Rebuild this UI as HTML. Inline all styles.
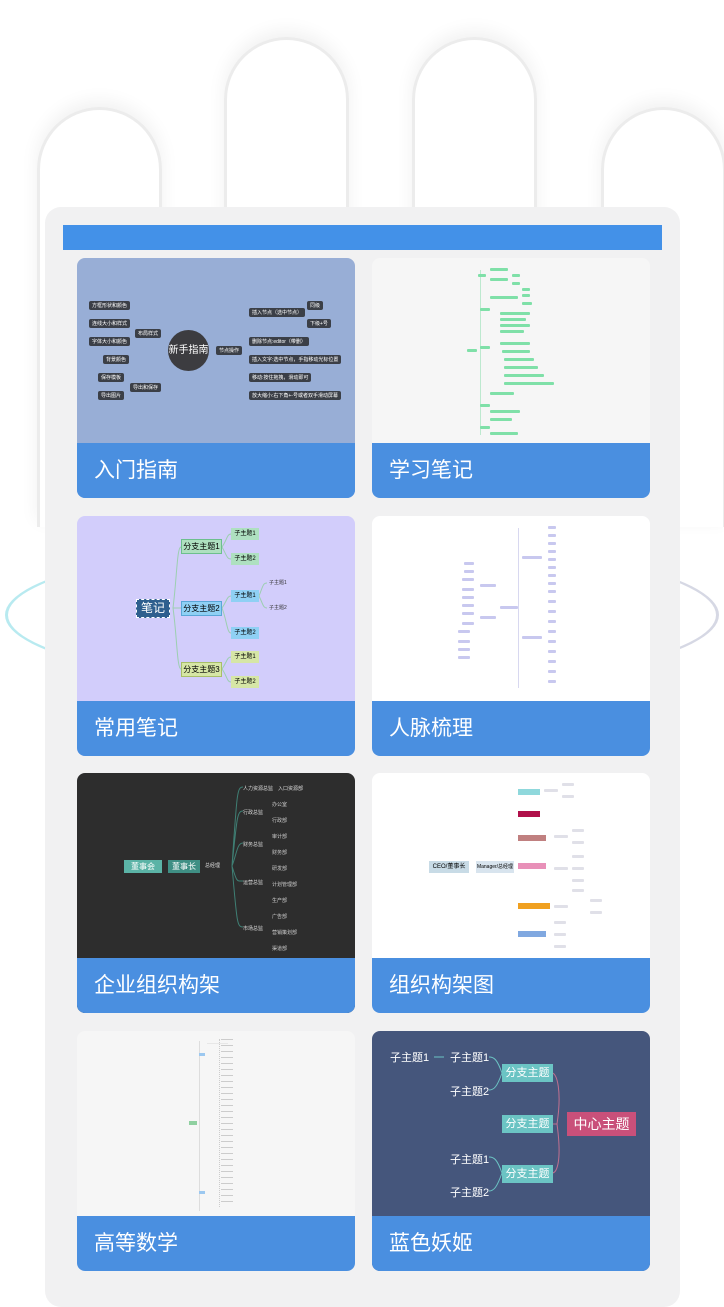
<!DOCTYPE html>
<html><head><meta charset="utf-8"><style>
*{margin:0;padding:0;box-sizing:border-box}
body{width:724px;height:1287px;background:#fff;position:relative;overflow:hidden;font-family:"Liberation Sans","Noto Sans CJK SC",sans-serif}
.a{position:absolute}
.arch{position:absolute;border:3px solid #ececec;border-bottom:none;border-radius:64px 64px 0 0;box-shadow:0 -6px 18px rgba(0,0,0,.06)}
.panel{position:absolute;left:45px;top:207px;width:635px;height:1100px;background:#f1f1f2;border-radius:16px}
.card{position:absolute;width:278px;height:240px;border-radius:8px;overflow:hidden}
.card .lab{position:absolute;left:0;bottom:0;width:100%;height:55px;background:#4a8fe0;color:#fff;font-size:21px;line-height:55px;padding-left:17px}
.n{position:absolute;font-size:5px;color:#fff;background:#3b3f47;border-radius:2px;padding:1px 3px;white-space:nowrap}
.g{position:absolute;background:#7fe0a8;height:3px;border-radius:1px}
.p{position:absolute;background:#c8c8ef;height:3px;border-radius:1px}
.t{position:absolute;font-size:5px;color:#aaa;white-space:nowrap}
</style></head><body>
<div class="a" style="left:5px;top:540px;width:714px;height:150px;border-radius:50%;border:3px solid #b8eaf0;border-right-color:#d6d8e4"></div>
<div class="arch" style="left:37px;top:107px;width:125px;height:420px"></div>
<div class="arch" style="left:224px;top:37px;width:125px;height:490px"></div>
<div class="arch" style="left:412px;top:37px;width:125px;height:490px"></div>
<div class="arch" style="left:601px;top:107px;width:125px;height:420px"></div>
<div class="panel"></div>
<div class="a" style="left:63px;top:225px;width:599px;height:25px;background:#4391e8"></div>

<!-- card1 -->
<div class="card" style="left:77px;top:258px;background:#98aed6">
 <div class="a" style="left:91px;top:72px;width:41px;height:41px;border-radius:50%;background:#3c3c40;color:#fff;font-size:10px;line-height:41px;text-align:center">新手指南</div>
 <div class="n" style="left:12px;top:43px">方框形状和颜色</div>
 <div class="n" style="left:12px;top:61px">连线大小和样式</div>
 <div class="n" style="left:12px;top:79px">字体大小和颜色</div>
 <div class="n" style="left:26px;top:97px">背景颜色</div>
 <div class="n" style="left:21px;top:115px">保存模板</div>
 <div class="n" style="left:21px;top:133px">导出图片</div>
 <div class="n" style="left:58px;top:71px">布局样式</div>
 <div class="n" style="left:53px;top:125px">导出和保存</div>
 <div class="n" style="left:139px;top:88px">节点操作</div>
 <div class="n" style="left:172px;top:50px">插入节点（选中节点）</div>
 <div class="n" style="left:172px;top:79px">删除节点:editor（带删）</div>
 <div class="n" style="left:172px;top:97px">插入文字:选中节点，手指移动光标位置</div>
 <div class="n" style="left:172px;top:115px">移动:按住拖拽，滑动即可</div>
 <div class="n" style="left:172px;top:133px">放大缩小:右下角+-号或者双手滑动屏幕</div>
 <div class="n" style="left:230px;top:43px">同级</div>
 <div class="n" style="left:230px;top:61px">下级+号</div>
 <div class="lab">入门指南</div>
</div>
<!-- card2 -->
<div class="card" style="left:372px;top:258px;background:#f6f6f6">
 <div class="a" style="left:108px;top:12px;width:1px;height:165px;background:#bde9cf"></div>
 <div class="g" style="left:118px;top:10px;width:18px"></div><div class="g" style="left:106px;top:16px;width:8px"></div>
 <div class="g" style="left:118px;top:20px;width:18px"></div><div class="g" style="left:140px;top:16px;width:8px"></div>
 <div class="g" style="left:140px;top:24px;width:8px"></div><div class="g" style="left:150px;top:30px;width:8px"></div>
 <div class="g" style="left:150px;top:36px;width:8px"></div><div class="g" style="left:118px;top:38px;width:28px"></div>
 <div class="g" style="left:150px;top:44px;width:10px"></div><div class="g" style="left:108px;top:50px;width:10px"></div>
 <div class="g" style="left:128px;top:54px;width:30px"></div><div class="g" style="left:128px;top:60px;width:26px"></div>
 <div class="g" style="left:128px;top:66px;width:30px"></div><div class="g" style="left:128px;top:72px;width:24px"></div>
 <div class="g" style="left:95px;top:91px;width:10px"></div><div class="g" style="left:108px;top:88px;width:10px"></div>
 <div class="g" style="left:128px;top:84px;width:30px"></div><div class="g" style="left:130px;top:92px;width:28px"></div>
 <div class="g" style="left:132px;top:100px;width:30px"></div><div class="g" style="left:132px;top:108px;width:34px"></div>
 <div class="g" style="left:132px;top:116px;width:40px"></div><div class="g" style="left:132px;top:124px;width:50px"></div>
 <div class="g" style="left:118px;top:134px;width:24px"></div><div class="g" style="left:108px;top:146px;width:10px"></div>
 <div class="g" style="left:118px;top:152px;width:30px"></div><div class="g" style="left:118px;top:160px;width:22px"></div>
 <div class="g" style="left:108px;top:168px;width:10px"></div><div class="g" style="left:118px;top:174px;width:28px"></div>
 <div class="lab">学习笔记</div>
</div>
<!-- card3 -->
<div class="card" style="left:77px;top:516px;background:#d2cdfb">
 <svg class="a" style="left:0;top:0" width="278" height="186"><g fill="none" stroke="#9ccfb0" stroke-width="1"><path d="M96 92 C100 60,100 31,104 31"/><path d="M96 92 L104 92"/><path d="M96 92 C100 120,100 153,104 153"/><path d="M145 31 C150 24,150 18,154 18 M145 31 C150 40,150 43,154 43 M145 92 C150 85,150 80,154 80 M145 92 C150 105,150 117,154 117 M145 153 C150 146,150 141,154 141 M145 153 C150 160,150 166,154 166 M182 80 C186 70,186 67,190 67 M182 80 C186 88,186 92,190 92"/></g></svg>
 <div class="a" style="left:59px;top:83px;width:34px;height:19px;background:#2e5f8e;border:1px dashed #fff;color:#fff;font-size:12px;line-height:17px;text-align:center">笔记</div>
 <div class="a" style="left:104px;top:23px;width:41px;height:15px;background:#aee0c0;border:1px solid #6dbf8e;font-size:8px;line-height:13px;text-align:center">分支主题1</div>
 <div class="a" style="left:104px;top:85px;width:41px;height:15px;background:#8fd0f4;border:1px solid #5aa7d8;font-size:8px;line-height:13px;text-align:center">分支主题2</div>
 <div class="a" style="left:104px;top:146px;width:41px;height:15px;background:#d6e6a6;border:1px solid #a8bf68;font-size:8px;line-height:13px;text-align:center">分支主题3</div>
 <div class="a" style="left:154px;top:12px;width:28px;height:12px;background:#aee0c0;font-size:6px;line-height:12px;text-align:center">子主题1</div>
 <div class="a" style="left:154px;top:37px;width:28px;height:12px;background:#aee0c0;font-size:6px;line-height:12px;text-align:center">子主题2</div>
 <div class="a" style="left:154px;top:74px;width:28px;height:12px;background:#8fd0f4;font-size:6px;line-height:12px;text-align:center">子主题1</div>
 <div class="a" style="left:154px;top:111px;width:28px;height:12px;background:#8fd0f4;font-size:6px;line-height:12px;text-align:center">子主题2</div>
 <div class="a" style="left:154px;top:135px;width:28px;height:12px;background:#d6e6a6;font-size:6px;line-height:12px;text-align:center">子主题1</div>
 <div class="a" style="left:154px;top:160px;width:28px;height:12px;background:#d6e6a6;font-size:6px;line-height:12px;text-align:center">子主题2</div>
 <div class="t" style="left:192px;top:63px;color:#333">子主题1</div>
 <div class="t" style="left:192px;top:88px;color:#333">子主题2</div>
 <div class="lab">常用笔记</div>
</div>
<!-- card4 -->
<div class="card" style="left:372px;top:516px;background:#fff">
 <div class="a" style="left:146px;top:12px;width:1px;height:160px;background:#d8d8f0"></div>
 <div class="p" style="left:150px;top:40px;width:20px"></div><div class="p" style="left:150px;top:120px;width:20px"></div>
 <div class="p" style="left:128px;top:90px;width:18px"></div><div class="p" style="left:108px;top:68px;width:16px"></div>
 <div class="p" style="left:108px;top:100px;width:16px"></div>
 <div class="p" style="left:176px;top:10px;width:8px"></div><div class="p" style="left:176px;top:18px;width:8px"></div>
 <div class="p" style="left:176px;top:26px;width:8px"></div><div class="p" style="left:176px;top:34px;width:8px"></div>
 <div class="p" style="left:176px;top:42px;width:8px"></div><div class="p" style="left:176px;top:50px;width:8px"></div>
 <div class="p" style="left:176px;top:58px;width:8px"></div><div class="p" style="left:176px;top:66px;width:8px"></div>
 <div class="p" style="left:176px;top:74px;width:8px"></div><div class="p" style="left:176px;top:84px;width:8px"></div>
 <div class="p" style="left:176px;top:94px;width:8px"></div><div class="p" style="left:176px;top:104px;width:8px"></div>
 <div class="p" style="left:176px;top:114px;width:8px"></div><div class="p" style="left:176px;top:124px;width:8px"></div>
 <div class="p" style="left:176px;top:134px;width:8px"></div><div class="p" style="left:176px;top:144px;width:8px"></div>
 <div class="p" style="left:176px;top:154px;width:8px"></div><div class="p" style="left:176px;top:164px;width:8px"></div>
 <div class="p" style="left:92px;top:46px;width:10px"></div><div class="p" style="left:92px;top:54px;width:10px"></div>
 <div class="p" style="left:90px;top:62px;width:12px"></div><div class="p" style="left:90px;top:72px;width:12px"></div>
 <div class="p" style="left:90px;top:80px;width:12px"></div><div class="p" style="left:90px;top:88px;width:12px"></div>
 <div class="p" style="left:90px;top:96px;width:12px"></div><div class="p" style="left:90px;top:106px;width:12px"></div>
 <div class="p" style="left:86px;top:114px;width:12px"></div><div class="p" style="left:86px;top:124px;width:12px"></div>
 <div class="p" style="left:86px;top:132px;width:12px"></div><div class="p" style="left:86px;top:140px;width:12px"></div>
 <div class="lab">人脉梳理</div>
</div>
<!-- card5 -->
<div class="card" style="left:77px;top:773px;background:#2d2d2d">
 <svg class="a" style="left:0;top:0" width="278" height="186"><g fill="none" stroke="#3f7f74" stroke-width="1"><path d="M155 93 C160 20,160 14,166 14 M155 93 C160 45,160 38,166 38 M155 93 C160 80,160 70,166 70 M155 93 C160 110,160 108,166 108 M155 93 C160 150,160 154,166 154"/></g></svg>
 <div class="a" style="left:47px;top:87px;width:38px;height:13px;background:#5bb3a6;color:#fff;font-size:8px;line-height:13px;text-align:center">董事会</div>
 <div class="a" style="left:91px;top:87px;width:32px;height:13px;background:#3f8f84;color:#fff;font-size:8px;line-height:13px;text-align:center">董事长</div>
 <div class="t" style="left:128px;top:89px;color:#ddd">总经理</div>
 <div class="t" style="left:166px;top:12px;color:#ddd">人力资源总监　入口资源部</div>
 <div class="t" style="left:166px;top:36px;color:#ddd">行政总监</div>
 <div class="t" style="left:166px;top:68px;color:#ddd">财务总监</div>
 <div class="t" style="left:166px;top:106px;color:#ddd">运营总监</div>
 <div class="t" style="left:166px;top:152px;color:#ddd">市场总监</div>
 <div class="t" style="left:195px;top:28px;color:#ccc">办公室</div><div class="t" style="left:195px;top:44px;color:#ccc">行政部</div>
 <div class="t" style="left:195px;top:60px;color:#ccc">审计部</div><div class="t" style="left:195px;top:76px;color:#ccc">财务部</div>
 <div class="t" style="left:195px;top:92px;color:#ccc">研发部</div><div class="t" style="left:195px;top:108px;color:#ccc">计划管理部</div>
 <div class="t" style="left:195px;top:124px;color:#ccc">生产部</div><div class="t" style="left:195px;top:140px;color:#ccc">广告部</div>
 <div class="t" style="left:195px;top:156px;color:#ccc">营销策划部</div><div class="t" style="left:195px;top:172px;color:#ccc">渠道部</div>
 <div class="lab">企业组织构架</div>
</div>
<!-- card6 -->
<div class="card" style="left:372px;top:773px;background:#fff">
 <div class="a" style="left:57px;top:88px;width:40px;height:12px;background:#c8dbe6;font-size:6px;line-height:12px;text-align:center">CEO/董事长</div>
 <div class="a" style="left:104px;top:88px;width:38px;height:12px;background:#d8e4ee;font-size:5px;line-height:12px;text-align:center">Manager/总经理</div>
 <div class="a" style="left:146px;top:16px;width:22px;height:6px;background:#8fd8dc"></div>
 <div class="a" style="left:146px;top:38px;width:22px;height:6px;background:#b0104a"></div>
 <div class="a" style="left:146px;top:62px;width:28px;height:6px;background:#c08080"></div>
 <div class="a" style="left:146px;top:90px;width:28px;height:6px;background:#e890b8"></div>
 <div class="a" style="left:146px;top:130px;width:32px;height:6px;background:#f0a020"></div>
 <div class="a" style="left:146px;top:158px;width:28px;height:6px;background:#80a8e0"></div>
 <div class="p" style="left:172px;top:16px;width:14px;background:#e0e0e8"></div>
 <div class="p" style="left:190px;top:10px;width:12px;background:#e0e0e8"></div><div class="p" style="left:190px;top:22px;width:12px;background:#e0e0e8"></div>
 <div class="p" style="left:182px;top:62px;width:14px;background:#e0e0e8"></div><div class="p" style="left:200px;top:56px;width:12px;background:#e0e0e8"></div>
 <div class="p" style="left:200px;top:68px;width:12px;background:#e0e0e8"></div><div class="p" style="left:182px;top:94px;width:14px;background:#e0e0e8"></div>
 <div class="p" style="left:200px;top:82px;width:12px;background:#e0e0e8"></div><div class="p" style="left:200px;top:94px;width:12px;background:#e0e0e8"></div>
 <div class="p" style="left:200px;top:106px;width:12px;background:#e0e0e8"></div><div class="p" style="left:200px;top:116px;width:12px;background:#e0e0e8"></div>
 <div class="p" style="left:182px;top:132px;width:14px;background:#e0e0e8"></div><div class="p" style="left:218px;top:126px;width:12px;background:#e0e0e8"></div>
 <div class="p" style="left:218px;top:138px;width:12px;background:#e0e0e8"></div><div class="p" style="left:182px;top:148px;width:12px;background:#e0e0e8"></div>
 <div class="p" style="left:182px;top:160px;width:12px;background:#e0e0e8"></div><div class="p" style="left:182px;top:172px;width:12px;background:#e0e0e8"></div>
 <div class="lab">组织构架图</div>
</div>
<!-- card7 -->
<div class="card" style="left:77px;top:1031px;background:#f6f6f6">
 <div class="a" style="left:122px;top:10px;width:1px;height:170px;background:#ddd"></div>
 <div class="a" style="left:112px;top:90px;width:8px;height:4px;background:#8fd0a0"></div>
 <div class="a" style="left:122px;top:22px;width:6px;height:3px;background:#9cc8f0"></div>
 <div class="a" style="left:122px;top:160px;width:6px;height:3px;background:#9cc8f0"></div>
 <div class="t" style="left:130px;top:10px;font-size:3px">———————</div>
 <div class="a" style="left:142px;top:8px;width:1px;height:168px;border-left:1px dotted #ccc"></div>
 <div class="a" style="left:144px;top:8px;width:12px;height:168px;background:repeating-linear-gradient(#ccc 0 1px,transparent 1px 6px)"></div>
 <div class="lab">高等数学</div>
</div>
<!-- card8 -->
<div class="card" style="left:372px;top:1031px;background:#45567c">
 <svg class="a" style="left:0;top:0" width="278" height="186"><g fill="none" stroke="#c07090" stroke-width="1"><path d="M185 93 C190 60,185 42,180 42 M185 93 L180 93 M185 93 C190 130,185 142,180 142"/></g><g fill="none" stroke="#6bc4c4" stroke-width="1"><path d="M130 42 C125 28,122 26,117 26 M130 42 C125 56,122 59,117 59 M130 142 C125 128,122 126,117 126 M130 142 C125 156,122 160,117 160 M62 26 L72 26"/></g></svg>
 <div class="a" style="left:195px;top:81px;width:69px;height:24px;background:#c9507a;color:#fff;font-size:14px;line-height:24px;text-align:center">中心主题</div>
 <div class="a" style="left:130px;top:33px;width:51px;height:18px;background:#6bc4c4;color:#fff;font-size:11px;line-height:18px;text-align:center">分支主题</div>
 <div class="a" style="left:130px;top:84px;width:51px;height:18px;background:#6bc4c4;color:#fff;font-size:11px;line-height:18px;text-align:center">分支主题</div>
 <div class="a" style="left:130px;top:134px;width:51px;height:18px;background:#6bc4c4;color:#fff;font-size:11px;line-height:18px;text-align:center">分支主题</div>
 <div class="a" style="left:18px;top:18px;color:#fff;font-size:11px">子主题1</div>
 <div class="a" style="left:78px;top:18px;color:#fff;font-size:11px">子主题1</div>
 <div class="a" style="left:78px;top:52px;color:#fff;font-size:11px">子主题2</div>
 <div class="a" style="left:78px;top:120px;color:#fff;font-size:11px">子主题1</div>
 <div class="a" style="left:78px;top:153px;color:#fff;font-size:11px">子主题2</div>
 <div class="lab">蓝色妖姬</div>
</div>
</body></html>
